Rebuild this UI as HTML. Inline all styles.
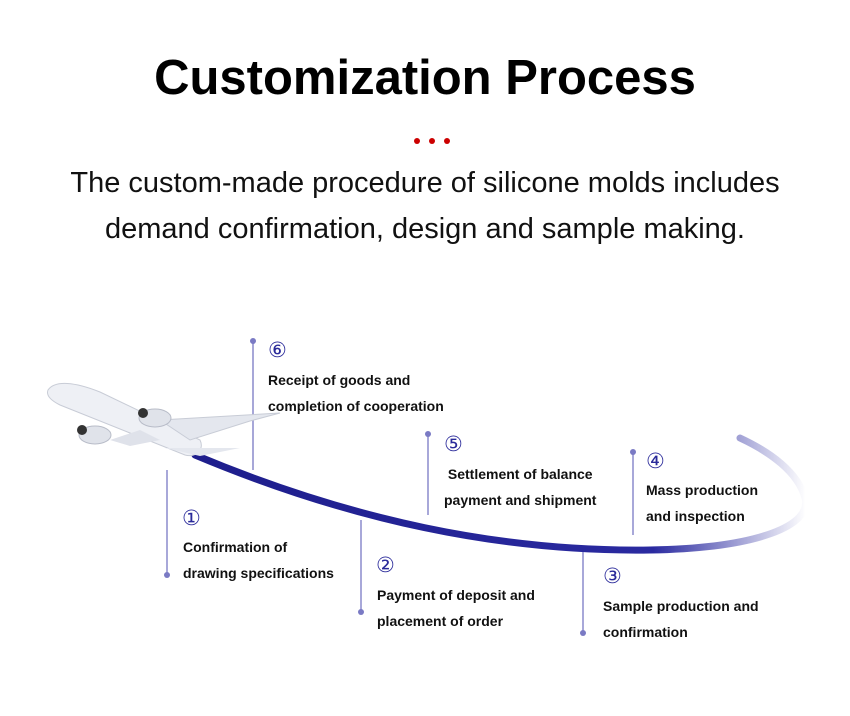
<!DOCTYPE html>
<html><head><meta charset="utf-8"><style>
body{margin:0;background:#fff;width:850px;height:716px;overflow:hidden;font-family:"Liberation Sans",sans-serif;position:relative}
.t{position:absolute;font-weight:bold;font-size:14px;line-height:26px;color:#111;white-space:nowrap}
.n{position:absolute;font-size:21px;color:#2a2a9a;font-family:"DejaVu Sans",sans-serif}
</style></head><body>
<div style="position:absolute;top:50px;width:850px;text-align:center;font-size:49px;font-weight:bold;color:#000">Customization Process</div>
<div style="position:absolute;top:131px;left:414px">
<span style="display:inline-block;width:6px;height:6px;border-radius:3px;background:#c00;margin-right:9px"></span><span style="display:inline-block;width:6px;height:6px;border-radius:3px;background:#c00;margin-right:9px"></span><span style="display:inline-block;width:6px;height:6px;border-radius:3px;background:#c00"></span></div>
<div style="position:absolute;top:160px;width:850px;text-align:center;font-size:29px;line-height:46px;color:#111">The custom-made procedure of silicone molds includes<br>demand confirmation, design and sample making.</div>
<svg width="850" height="716" style="position:absolute;left:0;top:0">
<defs><linearGradient id="g" x1="0" x2="1"><stop offset="0" stop-color="#1e1e8c"/><stop offset="0.75" stop-color="#2a2aa0"/><stop offset="1" stop-color="#fff"/></linearGradient></defs>
<path d="M195,455 C350,520 500,552 650,550 C760,548 812,525 805,498 C798,472 770,452 740,438" fill="none" stroke="url(#g)" stroke-width="7" stroke-linecap="round"/>
<g stroke="#8a8acc" stroke-width="1.5">
<line x1="167" y1="470" x2="167" y2="575"/><line x1="361" y1="520" x2="361" y2="612"/><line x1="583" y1="552" x2="583" y2="633"/>
<line x1="633" y1="452" x2="633" y2="535"/><line x1="428" y1="434" x2="428" y2="515"/><line x1="253" y1="341" x2="253" y2="470"/></g>
<g fill="#7a7ac4"><circle cx="167" cy="575" r="3"/><circle cx="361" cy="612" r="3"/><circle cx="583" cy="633" r="3"/><circle cx="633" cy="452" r="3"/><circle cx="428" cy="434" r="3"/><circle cx="253" cy="341" r="3"/></g>
<g>
<path d="M48,390 C55,380 75,382 100,392 L200,440 C205,450 195,458 185,455 L60,405 C50,400 46,395 48,390Z" fill="#eef0f5" stroke="#c8ccd6"/>
<path d="M160,420 L280,413 L250,421 L190,440Z" fill="#e4e7ee" stroke="#c8ccd6"/>
<path d="M165,448 L240,448 L200,456Z" fill="#e4e7ee"/>
<path d="M140,430 L110,440 L130,446 L160,440Z" fill="#dfe2ea"/>
<ellipse cx="155" cy="418" rx="16" ry="9" fill="#e0e3ea" stroke="#b8bcc8"/><circle cx="143" cy="413" r="5" fill="#333"/>
<ellipse cx="95" cy="435" rx="16" ry="9" fill="#e0e3ea" stroke="#b8bcc8"/><circle cx="82" cy="430" r="5" fill="#333"/>
</g>
</svg>
<div class="n" style="left:182px;top:506px">①</div>
<div class="t" style="left:183px;top:534px">Confirmation of<br>drawing specifications</div>
<div class="n" style="left:376px;top:553px">②</div>
<div class="t" style="left:377px;top:582px">Payment of deposit and<br>placement of order</div>
<div class="n" style="left:603px;top:564px">③</div>
<div class="t" style="left:603px;top:593px">Sample production and<br>confirmation</div>
<div class="n" style="left:646px;top:449px">④</div>
<div class="t" style="left:646px;top:477px">Mass production<br>and inspection</div>
<div class="n" style="left:444px;top:432px">⑤</div>
<div class="t" style="left:444px;top:461px">&nbsp;Settlement of balance<br>payment and shipment</div>
<div class="n" style="left:268px;top:338px">⑥</div>
<div class="t" style="left:268px;top:367px">Receipt of goods and<br>completion of cooperation</div>
</body></html>
